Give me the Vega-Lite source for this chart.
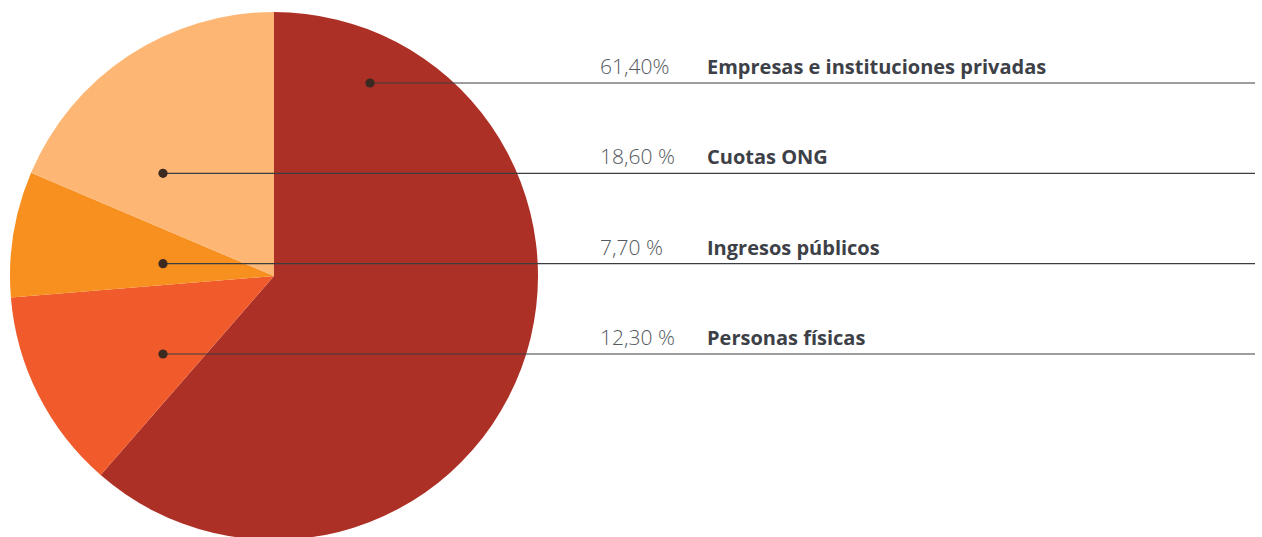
{
  "$schema": "https://vega.github.io/schema/vega-lite/v6.json",
  "width": 548,
  "height": 552,
  "padding": 0,
  "autosize": {"type": "pad"},
  "background": "#ffffff",
  "config": {"view": {"stroke": null}},
  "data": {
    "values": [
      {"name": "Empresas e instituciones privadas", "value": 61.4, "pct": "61,40%"},
      {"name": "Personas físicas", "value": 12.3, "pct": "12,30 %"},
      {"name": "Ingresos públicos", "value": 7.7, "pct": "7,70 %"},
      {"name": "Cuotas ONG", "value": 18.6, "pct": "18,60 %"}
    ]
  },
  "transform": [
    {"window": [{"op": "row_number", "as": "slice"}]}
  ],
  "resolve": {"scale": {"x": "independent"}},
  "layer": [
    {
      "mark": {"type": "arc", "outerRadius": 264},
      "encoding": {
        "theta": {"field": "value", "type": "quantitative", "stack": true},
        "order": {"field": "slice", "type": "quantitative", "sort": "ascending"},
        "color": {
          "field": "name",
          "type": "nominal",
          "scale": {
            "domain": ["Empresas e instituciones privadas", "Personas físicas", "Ingresos públicos", "Cuotas ONG"],
            "range": ["#ad3026", "#f15a2b", "#f7901e", "#fdb673"]
          },
          "legend": null
        }
      }
    },
    {
      "layer": [
        {
          "mark": {"type": "rule", "color": "#3a3d42", "strokeWidth": 1.2},
          "encoding": {
            "y": {"field": "name", "type": "nominal", "axis": null,
                  "scale": {"type": "point", "padding": 0, "domain": ["Empresas e instituciones privadas", "Cuotas ONG", "Ingresos públicos", "Personas físicas"], "range": [83, 354]}},
            "x": {"field": "value", "type": "quantitative", "axis": null,
                  "scale": {"domain": [18.6, 61.4], "range": [163, 370], "clamp": true, "nice": false, "zero": false}},
            "x2": {"value": 1255}
          }
        },
        {
          "mark": {"type": "circle", "size": 85, "opacity": 1, "color": "#3a2a22"},
          "encoding": {
            "y": {"field": "name", "type": "nominal", "axis": null},
            "x": {"field": "value", "type": "quantitative", "axis": null}
          }
        },
        {
          "mark": {"type": "text", "align": "left", "baseline": "alphabetic", "dy": -9, "font": "Open Sans", "fontSize": 21, "fontWeight": 300, "color": "#55595e"},
          "encoding": {
            "y": {"field": "name", "type": "nominal", "axis": null},
            "x": {"value": 600},
            "text": {"field": "pct"}
          }
        },
        {
          "mark": {"type": "text", "align": "left", "baseline": "alphabetic", "dy": -9, "font": "Open Sans", "fontSize": 20, "fontWeight": 700, "color": "#3d4147"},
          "encoding": {
            "y": {"field": "name", "type": "nominal", "axis": null},
            "x": {"value": 707},
            "text": {"field": "name"}
          }
        }
      ]
    }
  ]
}
